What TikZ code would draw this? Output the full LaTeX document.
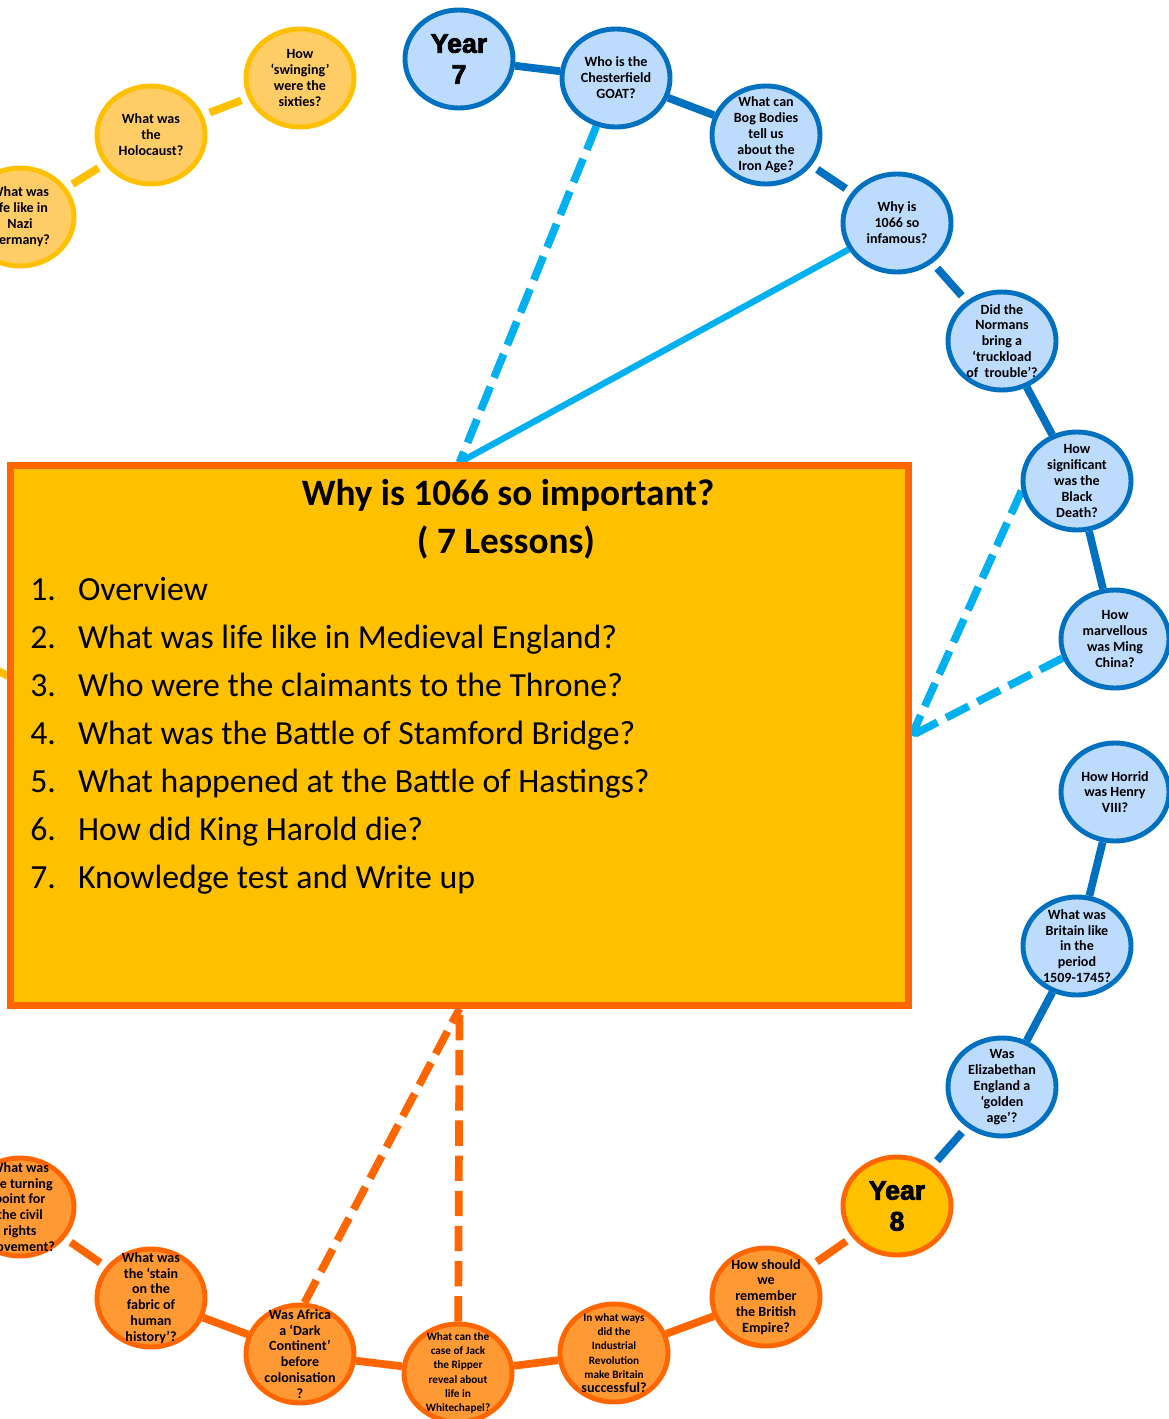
\documentclass[tikz,border=0pt]{standalone}
\usepackage{fontspec}
\setmainfont{Carlito}
\newfontfamily\yearfont{Liberation Sans}[BoldFeatures={FakeBold=3}]
\usetikzlibrary{shapes.geometric,backgrounds}
\definecolor{yrblue}{RGB}{0,112,192}
\definecolor{paleblue}{RGB}{189,220,253}
\definecolor{linkblue}{RGB}{0,176,240}
\definecolor{ylwline}{RGB}{255,192,0}
\definecolor{ylwfill}{RGB}{255,204,102}
\definecolor{orgline}{RGB}{255,102,0}
\definecolor{orgfill}{RGB}{255,153,51}
\definecolor{boxfill}{RGB}{255,192,0}

\begin{document}
\begin{tikzpicture}[x=0.025cm, y=-0.025cm,
    topic/.style={ellipse, line width=3.5pt, minimum width=2.7cm, minimum height=2.45cm,
        inner sep=-8pt, align=center, font=\fontsize{10}{11.3}\selectfont\bfseries},
    y7topic/.style={topic, fill=paleblue, draw=yrblue},
    y8topic/.style={topic, fill=orgfill, draw=orgline},
    y9topic/.style={topic, fill=ylwfill, draw=ylwline},
    smalltopic/.style={font=\fontsize{8}{10.2}\selectfont\bfseries},
    yearnode/.style={topic, font=\yearfont\bfseries\fontsize{19}{22}\selectfont},
    chain/.style={line width=5.5pt},
    brokenchain/.style={chain, shorten >=5pt, shorten <=5pt},
    boxlink/.style={line width=5.5pt, dash pattern=on 18pt off 7pt},
    listitem/.style={anchor=base west, inner sep=0pt, font=\fontsize{24}{30}\selectfont},
]
    \useasboundingbox (0,0) rectangle (1169,1419);

    % year 9 topics
    \node[y9topic] (nazi) at (20,217) {What was\\life like in\\Nazi\\Germany?};
    \node[y9topic] (holocaust) at (151,135) {What was\\the\\Holocaust?};
    \node[y9topic] (sixties) at (300,78) {How\\‘swinging’\\were the\\sixties?};

    % year 7 topics
    \node[yearnode, fill=paleblue, draw=yrblue] (year7) at (459,59) {Year\\7};
    \node[y7topic] (goat) at (616,78) {Who is the\\Chesterfield\\GOAT?};
    \node[y7topic] (bog) at (766,135) {What can\\Bog Bodies\\tell us\\about the\\Iron Age?};
    \node[y7topic] (infamous) at (897,223) {Why is\\1066 so\\infamous?};
    \node[y7topic] (normans) at (1002,341) {Did the\\Normans\\bring a\\‘truckload\\of~ trouble’?};
    \node[y7topic] (blackdeath) at (1077,481) {How\\significant\\was the\\Black\\Death?};
    \node[y7topic] (ming) at (1115,639) {How\\marvellous\\was Ming\\China?};
    \node[y7topic] (henry) at (1115,792) {How Horrid\\was Henry\\VIII?};
    \node[y7topic] (britain) at (1077,946) {What was\\Britain like\\in the\\period\\1509-1745?};
    \node[y7topic] (eliz) at (1002,1087) {Was\\Elizabethan\\England a\\‘golden\\age’?};

    % year 8 topics
    \node[yearnode, fill=boxfill, draw=orgline] (year8) at (897,1206) {Year\\8};
    \node[y8topic] (empire) at (766,1297) {How should\\we\\remember\\the British\\Empire?};
    \node[y8topic, smalltopic] (industrial) at (614,1353) {In what ways\\did the\\Industrial\\Revolution\\make Britain\\{\fontsize{10}{10}\selectfont successful?}};
    \node[y8topic, smalltopic] (jack) at (458,1373) {What can the\\case of Jack\\the Ripper\\reveal about\\life in\\Whitechapel?};
    \node[y8topic] (africa) at (300,1354) {Was Africa\\a ‘Dark\\Continent’\\before\\colonisation\\?};
    \node[y8topic] (stain) at (151,1298) {What was\\the ‘stain\\on the\\fabric of\\human\\history’?};
    \node[y8topic] (civil) at (20,1207) {What was\\the turning\\point for\\the civil\\rights\\movement?};

    % unit box
    \node[draw=orgline, fill=boxfill, line width=5pt, minimum width=22.425cm,
        minimum height=13.475cm, inner sep=0] (box) at (459.5,735.5) {};
    \node[anchor=base, font=\fontsize{26.5}{30}\selectfont\bfseries] (title) at (508,505) {Why is 1066 so important?};
    \node[anchor=base, font=\fontsize{26.5}{30}\selectfont\bfseries] (lessons) at (506,553) {( 7 Lessons)};
    \node[listitem] (l1) at (30,600) {\makebox[34pt][l]{1.}Overview};
    \node[listitem] (l2) at (30,648) {\makebox[34pt][l]{2.}What was life like in Medieval England?};
    \node[listitem] (l3) at (30,696) {\makebox[34pt][l]{3.}Who were the claimants to the Throne?};
    \node[listitem] (l4) at (30,744) {\makebox[34pt][l]{4.}What was the Battle of Stamford Bridge?};
    \node[listitem] (l5) at (30,792) {\makebox[34pt][l]{5.}What happened at the Battle of Hastings?};
    \node[listitem] (l6) at (30,840) {\makebox[34pt][l]{6.}How did King Harold die?};
    \node[listitem] (l7) at (30,888) {\makebox[34pt][l]{7.}Knowledge test and Write up};

    \coordinate (ylwfar) at (-60,640);
    \coordinate (ylwend) at (8,676);

    \begin{scope}[on background layer]
    \draw[brokenchain, ylwline] (nazi) -- (holocaust);
    \draw[brokenchain, ylwline] (holocaust) -- (sixties);
    \draw[chain, yrblue] (year7) -- (goat);
    \draw[chain, yrblue] (goat) -- (bog);
    \draw[brokenchain, yrblue] (bog) -- (infamous);
    \draw[brokenchain, yrblue] (infamous) -- (normans);
    \draw[chain, yrblue] (normans) -- (blackdeath);
    \draw[chain, yrblue] (blackdeath) -- (ming);
    \draw[chain, yrblue] (henry) -- (britain);
    \draw[chain, yrblue] (britain) -- (eliz);
    \draw[brokenchain, yrblue] (eliz) -- (year8);
    \draw[brokenchain, orgline] (year8) -- (empire);
    \draw[chain, orgline] (empire) -- (industrial);
    \draw[chain, orgline] (industrial) -- (jack);
    \draw[chain, orgline] (jack) -- (africa);
    \draw[chain, orgline] (africa) -- (stain);
    \draw[brokenchain, orgline] (stain) -- (civil);

    \draw[boxlink, linkblue] (goat) -- (box.north);
    \draw[chain, linkblue, line width=4.5pt] (infamous) -- (box.north);
    \draw[boxlink, linkblue] (blackdeath.190) -- (box.east);
    \draw[boxlink, linkblue] (ming.200) -- (box.east);
    \draw[boxlink, orgline] (africa.85) -- (box.south);
    \draw[boxlink, orgline] (jack) -- (box.south);
    \draw[chain, ylwline] (ylwfar) -- (ylwend);
    \end{scope}
\end{tikzpicture}
\end{document}
